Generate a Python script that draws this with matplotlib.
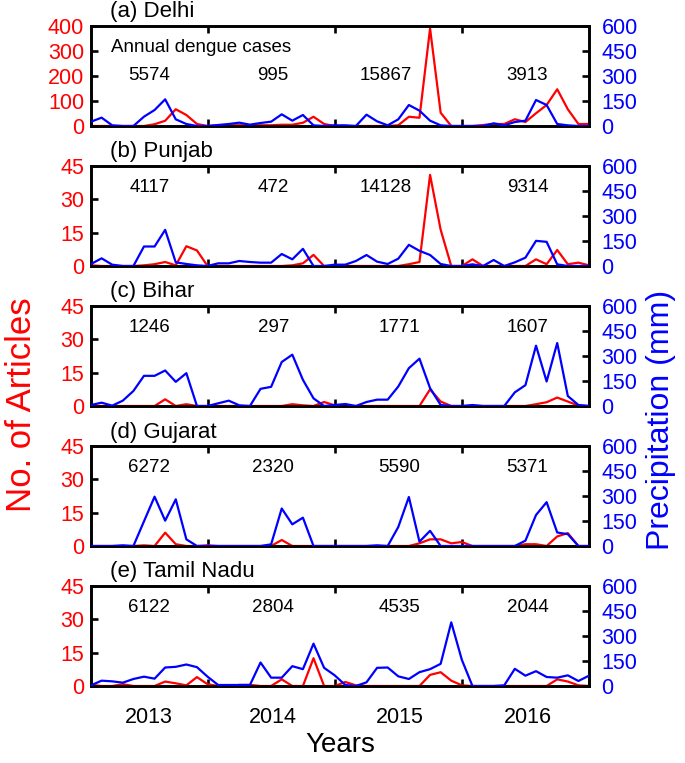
import matplotlib
matplotlib.use("Agg")
import matplotlib.pyplot as plt
import numpy as np

plt.rcParams['font.family'] = ['Liberation Sans', 'DejaVu Sans']

# ---------------- data ----------------
months = np.arange(48)  # Jan 2013 ... Dec 2016 (monthly)
year_labels = ['2013', '2014', '2015', '2016']
year_label_pos = [5.5, 17.2, 29.1, 41.2]
year_ticks = [11, 23, 35]

regions = ['(a) Delhi', '(b) Punjab', '(c) Bihar', '(d) Gujarat', '(e) Tamil Nadu']

dengue_delhi = [5574, 995, 15867, 3913]
dengue_punjab = [4117, 472, 14128, 9314]
dengue_bihar = [1246, 297, 1771, 1607]
dengue_gujarat = [6272, 2320, 5590, 5371]
dengue_tamilnadu = [6122, 2804, 4535, 2044]

articles_delhi = [0, 0, 0, 0, 0, 0, 7, 21, 67, 44, 8, 0,
                  3, 3, 3, 3, 3, 3, 5, 5, 13, 37, 8, 0,
                  0, 0, 0, 0, 0, 3, 37, 33, 390, 53, 0, 0,
                  0, 4, 8, 8, 27, 16, 51, 84, 147, 67, 8, 8]
precip_delhi = [26, 50, 4, 0, 0, 56, 96, 160, 40, 12, 0, 0,
                6, 12, 20, 8, 18, 26, 70, 32, 66, 4, 0, 4,
                4, 0, 68, 28, 4, 40, 126, 92, 32, 4, 0, 0,
                0, 0, 16, 4, 24, 32, 156, 126, 12, 4, 0, 0]

articles_punjab = [0.3, 0, 0, 0, 0, 0.3, 0.8, 1.8, 0.3, 8.9, 7, 0,
                   0, 0, 0, 0, 0, 0, 0, 0.3, 1.2, 5, 0, 0,
                   0, 0, 0, 0, 0, 0, 0.8, 1.8, 41, 16.3, 0, 0,
                   3, 0, 0, 0, 0, 0, 3, 0.8, 7.2, 0.8, 1.5, 0.3]
precip_punjab = [12, 46, 8, 0, 0, 117, 117, 217, 22, 12, 4, 0,
                 16, 16, 30, 24, 20, 20, 72, 40, 103, 0, 0, 8,
                 8, 30, 66, 26, 12, 44, 127, 91, 66, 12, 0, 0,
                 10, 0, 36, 0, 22, 50, 151, 145, 10, 0, 0, 0]

articles_bihar = [0, 0, 0, 0, 0, 0, 0, 3, 0, 0.8, 0, 0,
                  0, 0, 0, 0, 0, 0, 0, 0.8, 0.3, 0, 1.8, 0.3,
                  0, 0, 0, 0, 0, 0, 0, 0, 7.5, 2, 0, 0,
                  0, 0, 0, 0, 0, 0, 0.8, 1.7, 3.8, 2, 0.2, 0]
precip_bihar = [6, 20, 2, 32, 90, 181, 181, 213, 145, 197, 0, 0,
                16, 32, 4, 0, 103, 115, 264, 308, 157, 46, 0, 6,
                12, 0, 24, 38, 38, 117, 227, 284, 107, 6, 0, 0,
                6, 0, 0, 0, 82, 125, 362, 147, 378, 60, 6, 0]

articles_gujarat = [0, 0, 0, 0, 0, 0.3, 0, 6, 0.8, 0, 0, 0.3,
                    0, 0, 0, 0, 0, 0, 2.7, 0, 0, 0, 0, 0,
                    0, 0, 0, 0, 0, 0, 0, 1.2, 3, 3, 1.2, 1.8,
                    0, 0, 0, 0, 0, 0.8, 0.8, 0, 4.3, 5.8, 0, 0]
precip_gujarat = [0, 0, 0, 4, 0, 148, 296, 152, 280, 40, 0, 0,
                  0, 0, 0, 0, 0, 10, 225, 130, 170, 0, 0, 0,
                  0, 0, 0, 4, 0, 114, 294, 26, 91, 0, 0, 0,
                  0, 0, 0, 0, 0, 32, 186, 263, 81, 71, 0, 0]

articles_tamilnadu = [0.5, 0, 0, 0.8, 0, 0, 0, 2, 1.2, 0.3, 4, 0.8,
                      0, 0, 0.5, 0.5, 0, 0, 3, 0, 0, 12.5, 0, 0,
                      1.8, 0.3, 0, 0, 0, 0, 0, 0, 5, 6.2, 2.4, 0.3,
                      0, 0, 0, 0, 0, 0, 0, 0, 3, 2, 0.3, 0]
precip_tamilnadu = [4, 32, 28, 20, 42, 56, 44, 111, 115, 129, 113, 56,
                    6, 6, 6, 6, 141, 50, 50, 119, 101, 254, 109, 64,
                    6, 0, 22, 109, 111, 58, 42, 83, 101, 133, 382, 157,
                    0, 0, 0, 4, 103, 62, 89, 54, 50, 64, 30, 62]

articles = [articles_delhi, articles_punjab, articles_bihar, articles_gujarat, articles_tamilnadu]
precip = [precip_delhi, precip_punjab, precip_bihar, precip_gujarat, precip_tamilnadu]
dengue = [dengue_delhi, dengue_punjab, dengue_bihar, dengue_gujarat, dengue_tamilnadu]

art_ticks_delhi = [0, 100, 200, 300, 400]
art_ticks_other = [0, 15, 30, 45]
precip_ticks = [0, 150, 300, 450, 600]

# ---------------- layout ----------------
W_PX, H_PX = 685, 763
fig = plt.figure(figsize=(W_PX / 100, H_PX / 100), dpi=100)
left_px, right_px = 91, 589
panel_h = 100
tops_px = [26, 166, 306, 446, 586]

lw_spine = 1.9
tick_fs = 15.5

for k in range(5):
    top = tops_px[k]
    ax = fig.add_axes([left_px / W_PX, 1 - (top + panel_h) / H_PX,
                       (right_px - left_px) / W_PX, panel_h / H_PX])
    ax2 = ax.twinx()

    ax.plot(months, articles[k], color='#ff0000', lw=1.6, zorder=3)
    ax2.plot(months, precip[k], color='#0000ff', lw=1.6, zorder=3)

    ax.set_xlim(0, 47)
    if k == 0:
        ax.set_ylim(0, 400)
        ax.set_yticks(art_ticks_delhi)
    else:
        ax.set_ylim(0, 45)
        ax.set_yticks(art_ticks_other)
    ax2.set_ylim(0, 600)
    ax2.set_yticks(precip_ticks)

    for a in (ax, ax2):
        for s in a.spines.values():
            s.set_linewidth(lw_spine)

    ax.set_xticks(year_ticks)
    ax.set_xticklabels([])
    ax.tick_params(axis='x', which='major', direction='in', top=True, bottom=True,
                   length=5, width=lw_spine)
    ax.tick_params(axis='y', direction='in', left=True, right=False, length=5,
                   width=lw_spine, labelcolor='#ff0000', labelsize=tick_fs, pad=5)
    ax2.tick_params(axis='y', direction='in', left=False, right=True, length=5,
                    width=lw_spine, labelcolor='#0000ff', labelsize=tick_fs, pad=9)

    if k == 4:
        ax.set_xticks(year_label_pos, minor=True)
        ax.set_xticklabels(year_labels, minor=True)
        ax.tick_params(axis='x', which='minor', length=0, labelsize=tick_fs, pad=15)

    # panel title
    ax.text(0.038, 1.14, regions[k], transform=ax.transAxes, ha='left',
            va='center', fontsize=16)

    # annual dengue numbers
    trans = ax.get_xaxis_transform()
    ypos = 0.51 if k == 0 else 0.785
    for j, val in enumerate(dengue[k]):
        xp = year_label_pos[j]
        if j == 2 and k in (0, 1):
            xp = 27.8
        ax.text(xp, ypos, str(val), transform=trans, ha='center', va='center',
                fontsize=13.5)
    if k == 0:
        ax.text(1.9, 0.79, 'Annual dengue cases', transform=trans, ha='left',
                va='center', fontsize=13.5)

fig.text(340 / W_PX, 1 - 745 / H_PX, 'Years', ha='center', va='center', fontsize=20)
fig.text(22 / W_PX, 1 - 405 / H_PX, 'No. of Articles', ha='center', va='center',
         rotation=90, fontsize=25, color='#ff0000')
fig.text(661 / W_PX, 1 - 420 / H_PX, 'Precipitation (mm)', ha='center', va='center',
         rotation=90, fontsize=23, color='#0000ff')

fig.savefig('out.png', dpi=100)
